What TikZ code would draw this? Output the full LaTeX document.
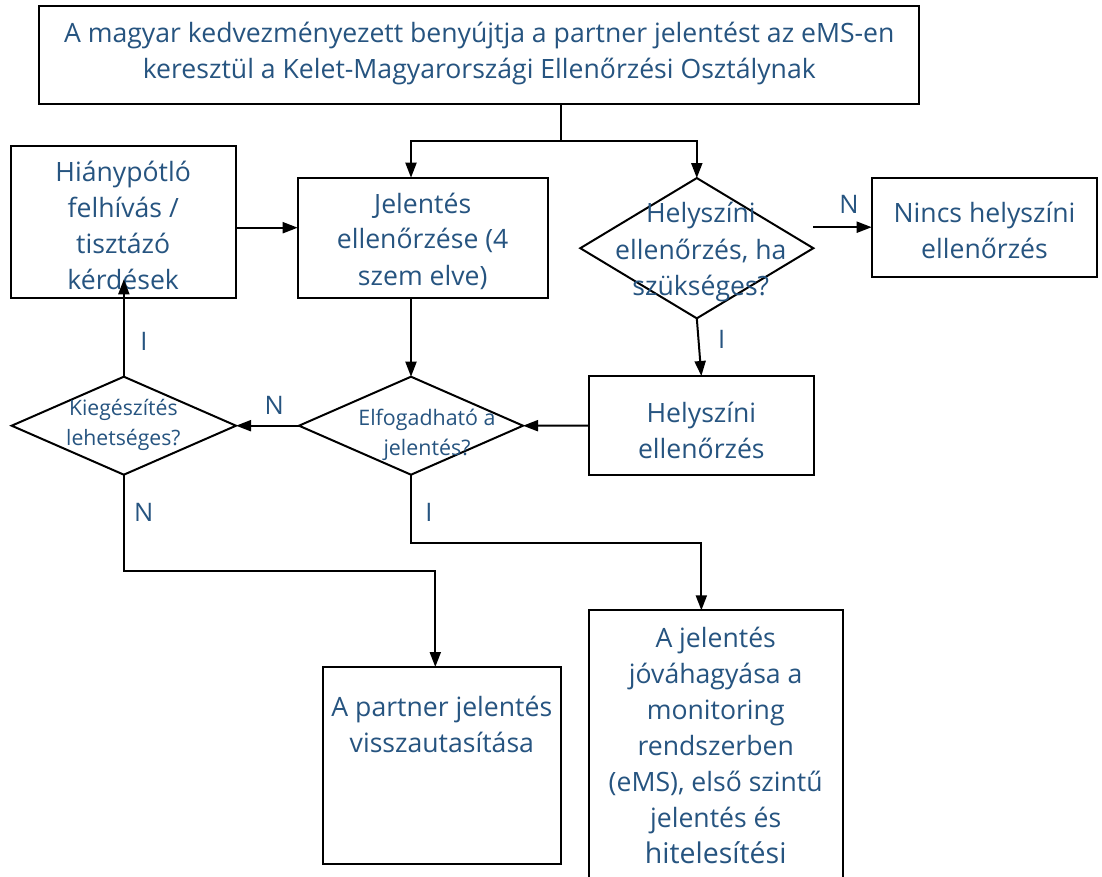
\documentclass[tikz,border=0pt]{standalone}
\usepackage{fontspec}
\setmainfont{Open Sans}
\usetikzlibrary{shapes.geometric,arrows.meta,calc}
\definecolor{tcol}{RGB}{38,84,128}
\newcommand{\boxtxt}[4]{\parbox[c][#2][t]{#1}{\centering\rule{0pt}{#3}#4}}
\begin{document}
\begin{tikzpicture}[x=1pt,y=-1pt,
  box/.style={draw, line width=2.2pt, inner sep=0pt, outer sep=0pt, text=tcol,
    font=\fontsize{26.6}{36}\selectfont},
  dia/.style={draw, shape=diamond, line width=2pt, inner sep=0pt, outer sep=0pt},
  dtext/.style={align=center, text=tcol, inner sep=0pt},
  lab/.style={text=tcol, inner sep=0pt, font=\fontsize{25.5}{36}\selectfont},
  arr/.style={line width=2pt, -{Triangle[length=15pt,width=11pt]}},
  plain/.style={line width=2pt}]
\useasboundingbox (0,0) rectangle (1102,877);
\clip (0,0) rectangle (1102,877);
\fill[white] (0,0) rectangle (1102,877);

\node[box, minimum width=880pt, minimum height=97.7pt] (top) at (479.3,54.85)
  {\boxtxt{880pt}{97.7pt}{36.3pt}{A magyar kedvezményezett benyújtja a partner jelentést az eMS-en\\keresztül a Kelet-Magyarországi Ellenőrzési Osztálynak}};

\node[box, minimum width=225pt, minimum height=151.7pt] (hp) at (123.2,221.85)
  {\boxtxt{225pt}{151.7pt}{35.7pt}{Hiánypótló\\felhívás /\\tisztázó\\kérdések}};

\node[box, minimum width=250pt, minimum height=120pt] (jel) at (422.7,237.7)
  {\boxtxt{250pt}{120pt}{35.3pt}{Jelentés\\ellenőrzése (4\\szem elve)}};

\node[dia, minimum width=233pt, minimum height=140.3pt,
  label={[dtext, font=\fontsize{26.6}{36.5}\selectfont, xshift=4pt, yshift=-4.3pt]center:{Helyszíni\\ellenőrzés, ha\\szükséges?}}] (hely) at (696.8,248.2) {};

\node[box, minimum width=225.6pt, minimum height=99pt] (nincs) at (984.5,227.2)
  {\boxtxt{225.6pt}{99pt}{45pt}{Nincs helyszíni\\ellenőrzés}};

\node[box, minimum width=225.3pt, minimum height=99.3pt] (hsz) at (701.35,425.65)
  {\boxtxt{225.3pt}{99.3pt}{46.7pt}{Helyszíni\\ellenőrzés}};

\node[dia, minimum width=224pt, minimum height=98pt,
  label={[dtext, font=\fontsize{21.4}{29.5}\selectfont, xshift=16pt, yshift=-9.3pt]center:{Elfogadható a\\jelentés?}}] (elf) at (411,425.7) {};

\node[dia, minimum width=224.3pt, minimum height=98pt,
  label={[dtext, font=\fontsize{21.2}{30}\selectfont, xshift=-0.5pt, yshift=1pt]center:{Kiegészítés\\lehetséges?}}] (kieg) at (123.85,425.7) {};

\node[box, minimum width=238.3pt, minimum height=197.3pt] (rej) at (441.85,765.65)
  {\boxtxt{238.3pt}{197.3pt}{49.3pt}{A partner jelentés\\visszautasítása}};

\node[box, minimum width=254pt, minimum height=300pt] (app) at (715.7,760.3)
  {\boxtxt{254pt}{300pt}{36.7pt}{A jelentés\\jóváhagyása a\\monitoring\\rendszerben\\(eMS), első szintű\\jelentés és\\{\fontsize{28.5}{36.4}\selectfont hitelesítési}}};

% connectors
\coordinate (split) at (560.7,141);
\coordinate (row) at (0,227.7);
\coordinate (hpin) at (123.3,279.3);
\coordinate (kb) at (435.3,571.3);
\coordinate (eb) at (0,543);

\draw[plain] (top.south -| split) -- (split);
\draw[arr] (split) -| (jel.north -| elf.north);
\draw[arr] (split) -| (hely.north);
\draw[arr] (hely.east |- nincs.west) -- (nincs.west);
\draw[arr] (hely.south) -- (hsz.north);
\draw[arr] (hsz.west) -- (elf.east);
\draw[arr] (elf.west) -- (kieg.east);
\draw[arr] (jel.south -| elf.north) -- (elf.north);
\draw[arr] (kieg.north) -- (kieg.north |- hpin);
\draw[arr] (hp.east |- row) -- (jel.west |- row);
\draw[arr] (kieg.south) |- (kb) -- (rej.north -| kb);
\draw[arr] (elf.south) |- (hsz.south |- eb) -- (app.north -| hsz.south);

\node[lab] (lN1) at (849,204.7) {N};
\node[lab] (lI1) at (721.7,339.3) {I};
\node[lab] (lN2) at (274.2,405.8) {N};
\node[lab] (lI2) at (144,341) {I};
\node[lab] (lN3) at (143.7,512.6) {N};
\node[lab] (lI3) at (429,512.5) {I};
\end{tikzpicture}
\end{document}
